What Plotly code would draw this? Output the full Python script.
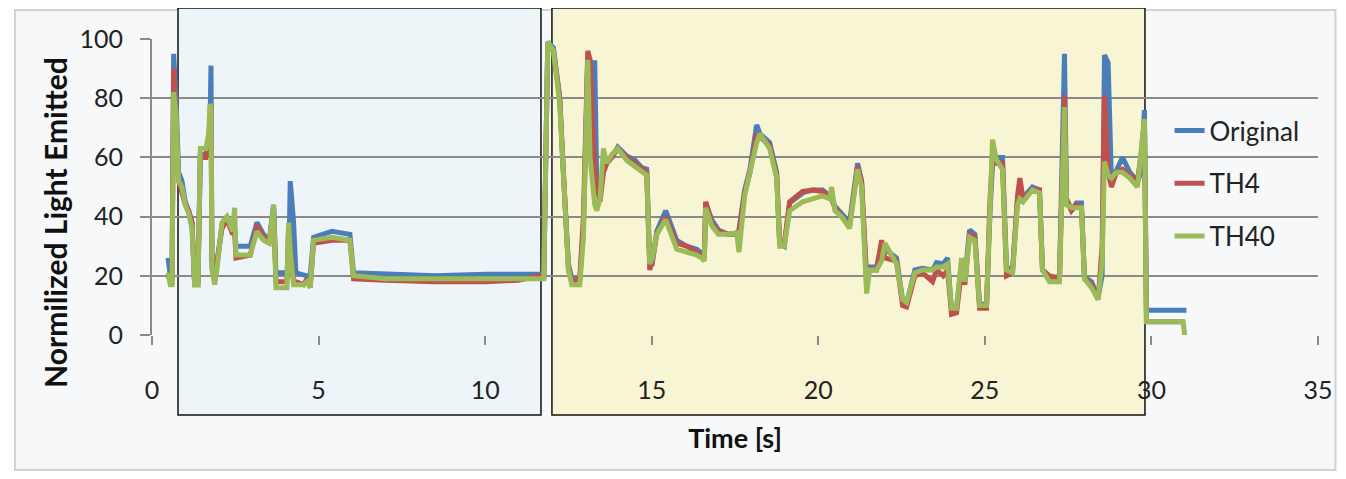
import plotly.graph_objects as go

# Shared time stamps [s]
time_s = [0.48, 0.55, 0.60, 0.65, 0.72, 0.80, 0.90, 1.00, 1.10, 1.20, 1.28, 1.38, 1.45, 1.62, 1.70, 1.74, 1.77, 1.80, 1.88, 1.95,
          2.10, 2.25, 2.42, 2.48, 2.52, 2.95, 3.15, 3.35, 3.52, 3.65, 3.72, 4.05, 4.10, 4.15, 4.25, 4.32, 4.55, 4.65, 4.75, 4.85,
          5.40, 5.94, 6.05, 7.00, 8.50, 10.00, 11.00, 11.64, 11.76, 11.88, 12.05, 12.24, 12.33, 12.42, 12.50, 12.60, 12.84, 12.95,
          13.08, 13.15, 13.29, 13.35, 13.45, 13.55, 13.65, 13.80, 13.98, 14.25, 14.50, 14.70, 14.85, 14.94, 15.02, 15.15, 15.42,
          15.75, 16.05, 16.35, 16.50, 16.58, 16.62, 16.80, 17.00, 17.30, 17.55, 17.62, 17.79, 17.95, 18.15, 18.25, 18.54, 18.75,
          18.84, 18.98, 19.14, 19.53, 19.83, 20.13, 20.34, 20.40, 20.50, 20.70, 20.94, 21.18, 21.30, 21.45, 21.54, 21.75, 21.90,
          22.00, 22.35, 22.53, 22.65, 22.90, 23.13, 23.43, 23.55, 23.75, 23.88, 24.00, 24.15, 24.30, 24.40, 24.54, 24.70, 24.84,
          25.05, 25.15, 25.23, 25.35, 25.53, 25.65, 25.83, 25.98, 26.05, 26.15, 26.43, 26.64, 26.73, 26.94, 27.24, 27.39, 27.45,
          27.60, 27.75, 27.90, 27.99, 28.20, 28.40, 28.52, 28.59, 28.70, 28.80, 28.95, 29.13, 29.35, 29.58, 29.70, 29.79, 29.85,
          30.95, 31.00, 31.05]

original = [26, 20, 19, 95, 80, 55, 52, 45, 42, 38, 17, 18, 61, 61, 66, 70, 91, 23, 22, 24,
            37, 40, 35, 36, 30, 30, 38, 34, 32, 44, 21, 21, 21, 52, 38, 21, 20, 20, 20, 33,
            35, 34, 21, 20.5, 20, 20.5, 20.5, 20.5, 20, 99, 97, 80, 58, 36, 24, 19, 19, 35,
            94, 92, 92, 52, 48, 55, 58, 60, 63.5, 60.5, 59, 56.5, 56, 25, 24.5, 35, 42,
            32, 30, 29, 28, 27, 44.6, 39, 35.5, 34, 34, 35.5, 49, 56, 71, 68, 65, 55,
            31, 30, 44.6, 48, 49, 49, 47, 46, 43.5, 41, 38, 58, 52, 17.6, 23, 23, 30,
            29, 26, 11.8, 10.7, 22, 22.5, 22, 24.5, 24, 26, 8.4, 9, 24, 19, 35.5, 34, 10.8,
            10, 40, 58, 60, 60, 23, 22, 45.6, 46, 46.5, 50, 49, 22, 19.6, 19.6, 95, 46,
            42, 44.6, 44.6, 19.6, 18, 12.8, 20, 94.6, 92, 52, 56, 60, 55, 52, 55, 76, 8.4,
            8.4, 8.4, 8.4]

th4 = [20, 18, 17, 90, 70, 52, 48, 44, 42, 38, 17, 17, 60, 60, 65, 75, 78, 25, 23, 25,
       36, 39, 34, 35, 26, 27, 37, 33, 31, 43, 18, 18, 37, 30, 18, 18, 17, 19, 16, 31,
       32, 32, 19, 18.5, 18, 18, 18.5, 20, 20, 98, 96, 80, 58, 35, 22, 18, 19, 40,
       96, 93, 55, 50, 45, 55, 58, 60, 63, 60, 58, 56, 55, 22, 25, 34, 40,
       31, 30, 28, 27, 26, 45, 38, 35, 34, 34.5, 35, 48, 55, 68, 67, 64, 54,
       32, 31, 45, 48.5, 49, 48.5, 47, 46, 43, 40, 37, 57, 52, 20, 22, 22, 32,
       26, 25, 10, 9.5, 20, 21, 18, 22, 20, 22, 7, 7.5, 22, 17, 34, 33, 9,
       9, 45, 60, 58, 58, 20, 21, 47, 53, 46, 49, 49, 22, 20, 19, 81, 46,
       42, 44, 43, 19, 17, 12, 30, 81, 55, 50, 55, 56, 54, 52, 62, 73, 4.5,
       4.5, None, None]

th40 = [21, 17, 17, 82, 75, 52, 50, 44, 41, 36, 17, 17, 63, 63, 68, 78, 77, 22, 17, 22,
        38, 40, 35, 43, 27, 27, 35, 32, 31, 44, 16, 16, 38, 28, 17, 17, 17, 18, 16, 32,
        33, 32, 20, 19, 18.8, 19, 19, 19, 19, 99, 96, 78, 56, 34, 22, 17, 17, 33,
        93, 60, 44, 42, 46, 63, 58, 61, 63, 59, 57, 55, 54, 24, 26, 34, 39,
        29, 28, 27, 26, 25, 43, 37, 34, 34, 34.5, 28, 47, 55, 65, 68, 63, 53,
        30, 30, 42, 45, 46, 47, 46, 50, 42, 40, 36, 56, 50, 14, 22, 22, 25,
        31, 24, 12, 11, 21, 22, 22, 23, 23, 24, 9, 9, 26, 18, 33, 32, 10,
        10, 48, 66, 59, 56, 22, 21, 44, 46, 45, 49, 48, 22, 18, 18, 77, 44,
        43, 43, 43, 19, 16, 12, 25, 58.6, 54, 53, 55, 55, 53, 50, 65, 73, 4.5,
        4.5, 0, None]

series_names = ["Original", "TH4", "TH40"]
series_colors = ["#4a7ebb", "#c0504d", "#9bbb59"]
x_ticks = [0, 5, 10, 15, 20, 25, 30, 35]
y_ticks = [0, 20, 40, 60, 80, 100]

fig = go.Figure()
for name, vals, col in zip(series_names, [original, th4, th40], series_colors):
    fig.add_trace(go.Scatter(x=time_s, y=vals, mode="lines", name=name, legendgroup=name,
                             line=dict(color=col, width=5), connectgaps=False))

font_family = "Lato, Open Sans, sans-serif"

# Backgrounds (paper coordinates relative to the plot area)
fig.add_shape(type="rect", xref="paper", yref="paper", x0=-0.1175, x1=1.0150, y0=-0.456, y1=1.098,
              fillcolor="#f6f8fa", line=dict(color="#d2d2d2", width=2), layer="below")
fig.add_shape(type="rect", xref="paper", yref="paper", x0=0.0223, x1=0.3336, y0=-0.270, y1=1.105,
              fillcolor="#eef5f8", line=dict(color="#111111", width=1.5), layer="below")
fig.add_shape(type="rect", xref="paper", yref="paper", x0=0.343, x1=0.8516, y0=-0.270, y1=1.105,
              fillcolor="#f8f5d4", line=dict(color="#111111", width=1.5), layer="below")

fig.update_layout(
    width=1338, height=463,
    margin=dict(l=144, r=28, t=31, b=136),
    paper_bgcolor="white", plot_bgcolor="rgba(0,0,0,0)",
    font=dict(family=font_family, size=25, color="#222222"),
    showlegend=True,
    legend=dict(x=0.8727, xanchor="left", y=0.77, yanchor="top", bgcolor="rgba(0,0,0,0)",
                font=dict(size=26, color="#222222"), traceorder="grouped", tracegroupgap=16,
                itemwidth=30),
)
fig.update_xaxes(range=[0, 35], tickvals=x_ticks, ticktext=[str(v) for v in x_ticks],
                 showgrid=False, zeroline=False, showline=False,
                 ticks="outside", ticklen=9, tickwidth=2, tickcolor="#8a8a8a",
                 ticklabelstandoff=24, tickfont=dict(size=25),
                 title=dict(text="<b>Time [s]</b>", font=dict(size=27, color="#111111"), standoff=26))
fig.update_yaxes(range=[0, 100], tickvals=y_ticks, ticktext=[str(v) for v in y_ticks],
                 showgrid=True, gridcolor="#8a8a8a", gridwidth=2,
                 zeroline=False, showline=True, linecolor="#8a8a8a", linewidth=2,
                 ticks="outside", ticklen=10, tickwidth=2, tickcolor="#8a8a8a",
                 ticklabelstandoff=12, tickfont=dict(size=25))

fig.add_annotation(text="<b>Normilized Light Emitted</b>", xref="paper", yref="paper",
                   x=-0.0832, y=0.382, textangle=-90, showarrow=False,
                   font=dict(size=30, color="#111111"), xanchor="center", yanchor="middle")

fig.write_html("out.html")
